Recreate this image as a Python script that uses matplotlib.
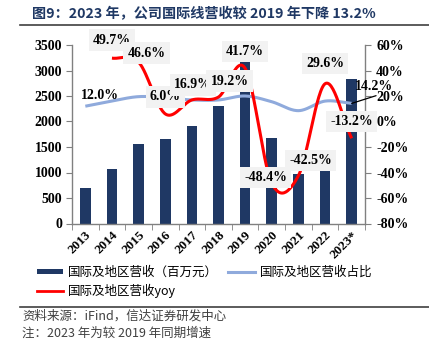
import numpy as np
import matplotlib
matplotlib.use("Agg")
import matplotlib.pyplot as plt
from matplotlib.lines import Line2D

years = ["2013", "2014", "2015", "2016", "2017", "2018", "2019", "2020", "2021", "2022", "2023*"]
revenue = [700, 1060, 1550, 1650, 1920, 2295, 3190, 1680, 970, 1060, 2825]
share = [12.0, 16.1, 19.5, 18.7, 16.9, 16.9, 20.0, 15.5, 8.5, 16.0, 14.2]
yoy = [None, 49.7, 46.6, 6.0, 16.9, 19.2, 41.7, -48.4, -42.5, 29.6, -13.2]

title = "图9：2023 年，公司国际线营收较 2019 年下降 13.2%"
legend_labels = ["国际及地区营收（百万元）", "国际及地区营收占比", "国际及地区营收yoy"]
source = "资料来源：iFind，信达证券研发中心"
note = "注：2023 年为较 2019 年同期增速"

NAVY = "#1F3864"
BLUE = "#8FAADC"
RED = "#FF0000"
GRAY = "#808080"
SERIF = "Liberation Serif"
CJK = ["Noto Sans CJK SC", "DejaVu Sans"]


def smooth(xs, ys, n=30):
    xs = np.asarray(xs, float)
    ys = np.asarray(ys, float)
    px = np.concatenate([[2 * xs[0] - xs[1]], xs, [2 * xs[-1] - xs[-2]]])
    py = np.concatenate([[2 * ys[0] - ys[1]], ys, [2 * ys[-1] - ys[-2]]])
    ox, oy = [], []
    for i in range(1, len(px) - 2):
        t = np.linspace(0, 1, n, endpoint=False)
        for p, out in ((px, ox), (py, oy)):
            p0, p1, p2, p3 = p[i - 1], p[i], p[i + 1], p[i + 2]
            m1 = (p2 - p0) / 2
            m2 = (p3 - p1) / 2
            h00 = 2 * t**3 - 3 * t**2 + 1
            h10 = t**3 - 2 * t**2 + t
            h01 = -2 * t**3 + 3 * t**2
            h11 = t**3 - t**2
            out.extend(h00 * p1 + h10 * m1 + h01 * p2 + h11 * m2)
    ox.append(xs[-1])
    oy.append(ys[-1])
    return np.array(ox), np.array(oy)


fig = plt.figure(figsize=(4.29, 3.47), dpi=100)
W, H = 429, 347
ax = fig.add_axes([72 / W, 1 - 223.5 / H, (365 - 72) / W, (223.5 - 45) / H])
ax2 = ax.twinx()

x = np.arange(len(years))
bars = ax.bar(x, revenue, width=0.4, color=NAVY, zorder=2, label=legend_labels[0])
ax.set_xlim(-0.5, len(years) - 0.5)
ax.set_ylim(0, 3500)
ax.set_yticks(np.arange(0, 3501, 500))
ax2.set_ylim(-80, 60)
ax2.set_yticks(np.arange(-80, 61, 20))
ax2.set_yticklabels([f"{v}%" for v in range(-80, 61, 20)])

ax.set_xticks(x)
ax.set_xticklabels(years)
ax.set_xticks(np.arange(-0.5, len(years), 1), minor=True)
ax.tick_params(axis="x", which="major", length=0, pad=4)
ax.tick_params(axis="x", which="minor", length=4, color=GRAY, direction="out")
for lab in ax.get_xticklabels():
    lab.set_rotation(45)
    lab.set_ha("right")
    lab.set_va("top")
    lab.set_rotation_mode("anchor")
    lab.set_fontfamily(SERIF)
    lab.set_fontweight("bold")
    lab.set_fontsize(9.5)

for a in (ax, ax2):
    for s in a.spines.values():
        s.set_visible(False)
ax.spines["left"].set_visible(True)
ax.spines["bottom"].set_visible(True)
ax2.spines["right"].set_visible(True)
for s in (ax.spines["left"], ax.spines["bottom"], ax2.spines["right"]):
    s.set_color(GRAY)
    s.set_linewidth(1.0)

ax.tick_params(axis="y", length=4, color=GRAY, pad=3)
ax2.tick_params(axis="y", length=4, color=GRAY, pad=4)
for lab in ax.get_yticklabels() + ax2.get_yticklabels():
    lab.set_fontfamily(SERIF)
    lab.set_fontweight("bold")
    lab.set_fontsize(10)

# share line
sx, sy = smooth(x, share)
ax2.plot(sx, sy, color=BLUE, lw=2.2, zorder=3, solid_capstyle="butt")
# yoy line
yx = [i for i, v in enumerate(yoy) if v is not None]
yv = [v for v in yoy if v is not None]
rx, ry = smooth(yx, yv)
ax2.plot(rx, ry, color=RED, lw=2.2, zorder=4, solid_capstyle="butt")

box = dict(boxstyle="square,pad=0.3", fc="#F2F2F2", ec="none")
yoy_offsets = {1: (0, 18), 2: (8, 9), 3: (0, 17), 4: (1, 15), 5: (11, 16),
               6: (0, 17), 7: (-6, 6), 8: (12, 15), 9: (0, 20), 10: (0, 17)}
for i, v in enumerate(yoy):
    if v is None:
        continue
    ax2.annotate(f"{v:.1f}%", (i, v), xytext=yoy_offsets[i], textcoords="offset pixels",
                 ha="center", va="center", fontfamily=SERIF, fontweight="bold",
                 fontsize=10, bbox=box, zorder=6)

ax2.annotate(f"{share[0]:.1f}%", (0, share[0]), xytext=(15, 11), textcoords="offset pixels",
             ha="center", va="center", fontfamily=SERIF, fontweight="bold", fontsize=10, zorder=6)
ax2.annotate(f"{share[-1]:.1f}%", (10, share[-1]), xytext=(22, 17), textcoords="offset pixels",
             ha="center", va="center", fontfamily=SERIF, fontweight="bold", fontsize=10, zorder=6,
             arrowprops=dict(arrowstyle="-", color="black", lw=0.9, shrinkA=0, shrinkB=0,
                             relpos=(0.9, 0.1)))
ax2.set_zorder(ax.get_zorder() + 1)
ax2.patch.set_visible(False)

# legend
handles = [bars, Line2D([], [], color=RED, lw=2), Line2D([], [], color=BLUE, lw=2.2)]
labels = [legend_labels[0], legend_labels[2], legend_labels[1]]
fig.legend(handles, labels, loc="upper left", bbox_to_anchor=(37 / W, 1 - 266 / H),
           ncol=2, frameon=False, prop={"family": CJK, "size": 9}, borderpad=0,
           borderaxespad=0, handlelength=2.1, handleheight=0.35, handletextpad=0.4,
           columnspacing=0.8, labelspacing=0.35)

# title and lines
fig.text(32 / W, 1 - 14 / H, title, fontfamily=CJK, fontweight="bold", fontsize=10.2,
         color=NAVY, ha="left", va="center")
fig.add_artist(Line2D([20 / W, 1], [1 - 25 / H] * 2, color="#404040", lw=1.2))
fig.add_artist(Line2D([20 / W, 1], [1 - 307 / H] * 2, color="#404040", lw=1.2))
fig.text(22 / W, 1 - 316 / H, source, fontfamily=CJK, fontsize=9, color="#404040",
         ha="left", va="center", style="italic")
fig.text(22 / W, 1 - 333 / H, note, fontfamily=CJK, fontsize=9, color="#404040",
         ha="left", va="center", style="italic")

fig.savefig("out.png", dpi=100)
